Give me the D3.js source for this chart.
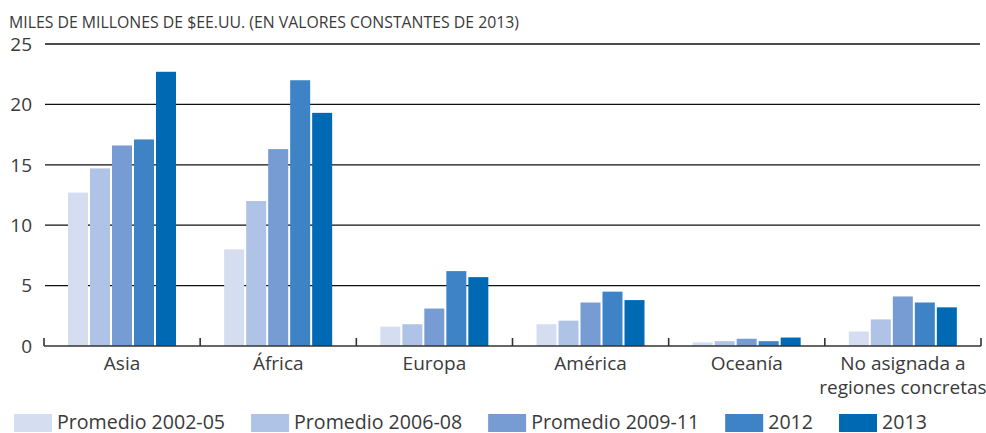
<!DOCTYPE html>
<html>
<head>
<meta charset="utf-8">
<script src="https://cdn.jsdelivr.net/npm/d3@7"></script>
<style>
  body { margin: 0; background: #fff; }
  text { font-family: "Open Sans", "Noto Sans", sans-serif; fill: #3a3a3a; }
</style>
</head>
<body>
<svg id="chart" width="986" height="433"></svg>
<script>
// data
const categories = ["Asia", "África", "Europa", "América", "Oceanía", "No asignada a\nregiones concretas"];
const series = ["Promedio 2002-05", "Promedio 2006-08", "Promedio 2009-11", "2012", "2013"];
const values = [
    [12.7, 14.7, 16.6, 17.1, 22.7],
    [8.0, 12.0, 16.3, 22.0, 19.3],
    [1.6, 1.8, 3.1, 6.2, 5.7],
    [1.8, 2.1, 3.6, 4.5, 3.8],
    [0.3, 0.4, 0.6, 0.4, 0.7],
    [1.2, 2.2, 4.1, 3.6, 3.2]
];
const yTicks = [0, 5, 10, 15, 20, 25];
const colors = ["#d5ddf0", "#aec3e5", "#769cd3", "#3e83c6", "#0069b4"];
const title = "MILES DE MILLONES DE $EE.UU. (EN VALORES CONSTANTES DE 2013)";

const svg = d3.select("#chart");

const x0 = d3.scaleBand().domain(categories).range([44, 981]);
const x1 = d3.scaleBand().domain(series).range([24, 132]).paddingInner(2 / 22);
const y = d3.scaleLinear().domain([0, 25]).range([346, 44]);

// title
svg.append("text")
    .attr("x", 9).attr("y", 28)
    .attr("font-size", 16.5)
    .attr("textLength", 510).attr("lengthAdjust", "spacingAndGlyphs")
    .text(title);

// gridlines
svg.append("g").selectAll("line")
    .data(yTicks.filter(d => d > 0))
    .join("line")
    .attr("x1", 45).attr("x2", 980)
    .attr("y1", d => y(d)).attr("y2", d => y(d))
    .attr("stroke", "#111").attr("stroke-width", 1.3);

// y tick labels
svg.append("g").selectAll("text")
    .data(yTicks)
    .join("text")
    .attr("x", 32).attr("y", d => y(d))
    .attr("dy", "0.36em")
    .attr("text-anchor", "end")
    .attr("font-size", 19)
    .text(d => d);

// bars
const groups = svg.append("g").selectAll("g")
    .data(categories)
    .join("g")
    .attr("transform", d => `translate(${x0(d)},0)`);

groups.selectAll("rect")
    .data((c, i) => series.map((s, j) => ({ s, j, v: values[i][j] })))
    .join("rect")
    .attr("x", d => x1(d.s))
    .attr("width", x1.bandwidth())
    .attr("y", d => y(d.v))
    .attr("height", d => y(0) - y(d.v))
    .attr("fill", d => colors[d.j]);

// baseline with inward ticks
const base = svg.append("g").attr("stroke", "#333").attr("stroke-width", 1.6);
base.append("line")
    .attr("x1", 44).attr("x2", 981)
    .attr("y1", y(0)).attr("y2", y(0));
const tickXs = categories.map(c => x0(c)).concat([x0.range()[1]]);
base.selectAll("line.tick")
    .data(tickXs)
    .join("line")
    .attr("class", "tick")
    .attr("x1", d => d).attr("x2", d => d)
    .attr("y1", y(0)).attr("y2", y(0) - 8);

// category labels
svg.append("g").selectAll("text")
    .data(categories)
    .join("text")
    .attr("x", d => x0(d) + x0.bandwidth() / 2)
    .attr("y", 370)
    .attr("text-anchor", "middle")
    .attr("font-size", 19)
    .each(function(d) {
        const lines = d.split("\n");
        d3.select(this).selectAll("tspan")
            .data(lines)
            .join("tspan")
            .attr("x", x0(d) + x0.bandwidth() / 2)
            .attr("dy", (l, k) => k === 0 ? 0 : 24)
            .text(l => l);
    });

// legend
const legend = svg.append("g");
let lx = 14;
series.forEach((s, j) => {
    legend.append("rect")
        .attr("x", lx).attr("y", 414)
        .attr("width", 38).attr("height", 18)
        .attr("fill", colors[j]);
    const t = legend.append("text")
        .attr("x", lx + 43).attr("y", 429)
        .attr("font-size", 19.6)
        .text(s);
    lx += 43 + t.node().getComputedTextLength() + 26;
});
</script>
</body>
</html>
